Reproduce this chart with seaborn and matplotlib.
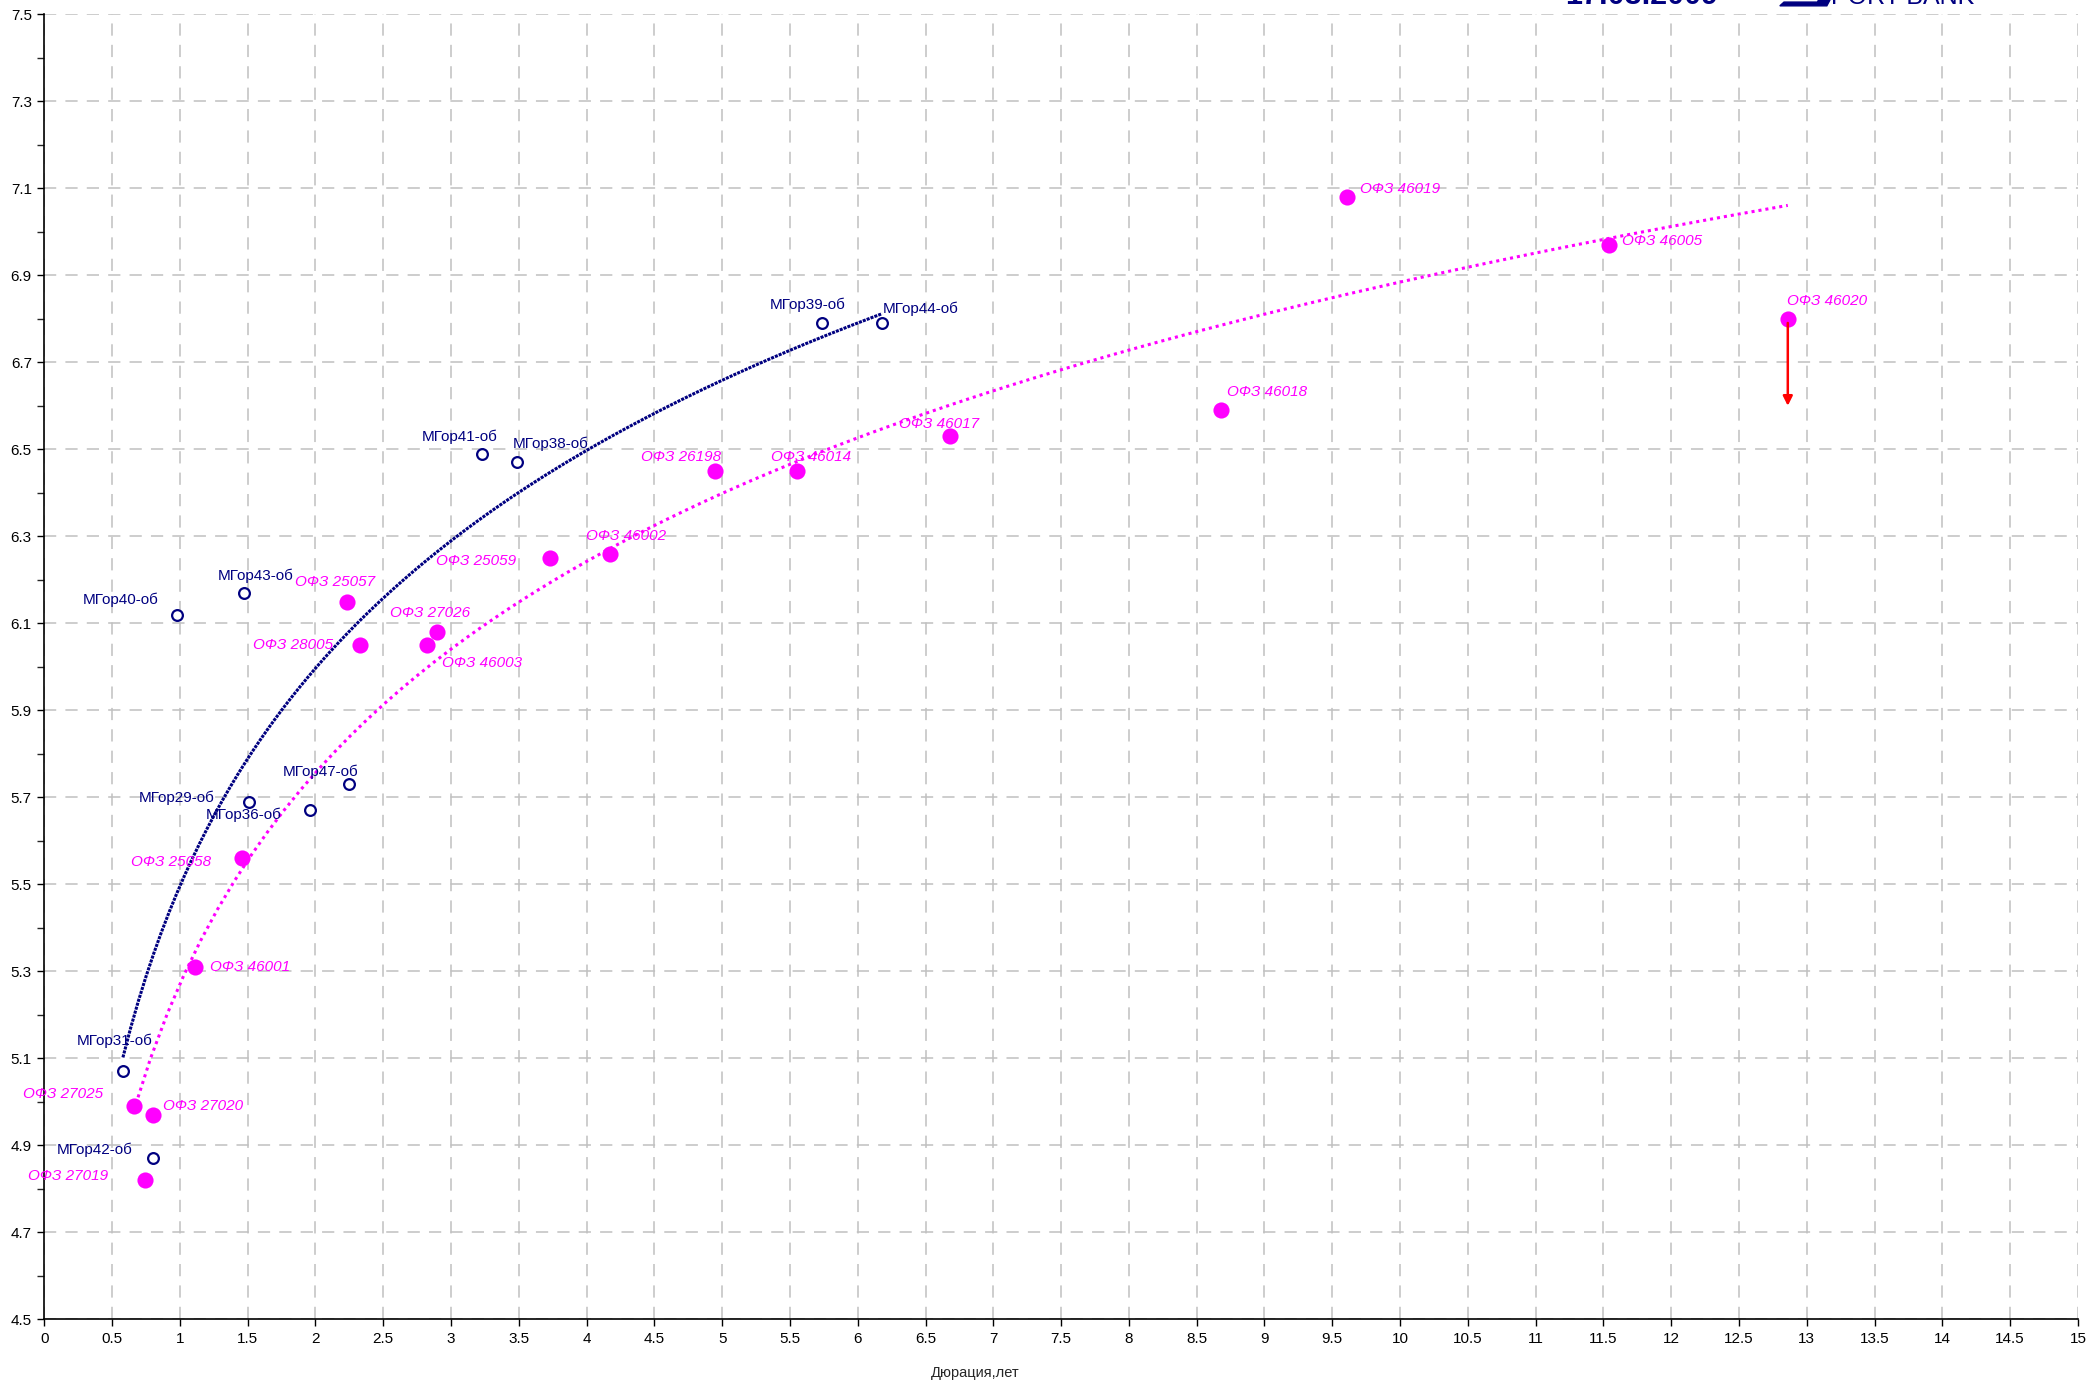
import numpy as np
import pandas as pd
import seaborn as sns
import matplotlib
matplotlib.use("Agg")
import matplotlib.pyplot as plt
from matplotlib import ticker
from matplotlib.patches import Polygon

# МГор (Moscow city bonds)
mgor_names = ['МГор31-об', 'МГор42-об', 'МГор40-об', 'МГор43-об', 'МГор29-об', 'МГор36-об',
              'МГор47-об', 'МГор41-об', 'МГор38-об', 'МГор39-об', 'МГор44-об']
mgor_dur = [0.58, 0.80, 0.98, 1.47, 1.51, 1.96, 2.25, 3.23, 3.49, 5.74, 6.18]
mgor_yld = [5.07, 4.87, 6.12, 6.17, 5.69, 5.67, 5.73, 6.49, 6.47, 6.79, 6.79]

# ОФЗ
ofz_names = ['ОФЗ 27025', 'ОФЗ 27020', 'ОФЗ 27019', 'ОФЗ 46001', 'ОФЗ 25058', 'ОФЗ 25057',
             'ОФЗ 28005', 'ОФЗ 46003', 'ОФЗ 27026', 'ОФЗ 25059', 'ОФЗ 46002', 'ОФЗ 26198',
             'ОФЗ 46014', 'ОФЗ 46017', 'ОФЗ 46018', 'ОФЗ 46019', 'ОФЗ 46005', 'ОФЗ 46020']
ofz_dur = [0.66, 0.80, 0.74, 1.11, 1.46, 2.23, 2.33, 2.82, 2.90, 3.73, 4.17, 4.95,
           5.55, 6.68, 8.68, 9.61, 11.54, 12.86]
ofz_yld = [4.99, 4.97, 4.82, 5.31, 5.56, 6.15, 6.05, 6.05, 6.08, 6.25, 6.26, 6.45,
           6.45, 6.53, 6.59, 7.08, 6.97, 6.80]

# стрелка для ОФЗ 46020
arrow_from = 'ОФЗ 46020'
arrow_to_yld = 6.60

x_label = 'Дюрация,лет'
title_date = '17.03.2009'
logo_text = 'PORT BANK'

NAVY = '#000080'
MAGENTA = '#FF00FF'

# label offsets in points (dx, dy) relative to the marker
mgor_off = {
    'МГор31-об': (-6, 22), 'МГор42-об': (-42, 6), 'МГор40-об': (-41, 11),
    'МГор43-об': (9, 12), 'МГор29-об': (-52, 3), 'МГор36-об': (-48, -3),
    'МГор47-об': (-21, 9), 'МГор41-об': (-16, 12), 'МГор38-об': (24, 13),
    'МГор39-об': (-11, 13), 'МГор44-об': (28, 10),
}
ofz_off = {
    'ОФЗ 27025': (-51, 9), 'ОФЗ 27020': (36, 6), 'ОФЗ 27019': (-55, 3),
    'ОФЗ 46001': (40, 0), 'ОФЗ 25058': (-51, -3), 'ОФЗ 25057': (-8, 14),
    'ОФЗ 28005': (-48, 0), 'ОФЗ 46003': (40, -13), 'ОФЗ 27026': (-5, 14),
    'ОФЗ 25059': (-53, -2), 'ОФЗ 46002': (12, 13), 'ОФЗ 26198': (-25, 10),
    'ОФЗ 46014': (10, 10), 'ОФЗ 46017': (-8, 9), 'ОФЗ 46018': (33, 13),
    'ОФЗ 46019': (38, 6), 'ОФЗ 46005': (38, 3), 'ОФЗ 46020': (28, 13),
}

mgor = pd.DataFrame({'name': mgor_names, 'dur': mgor_dur, 'yld': mgor_yld})
ofz = pd.DataFrame({'name': ofz_names, 'dur': ofz_dur, 'yld': ofz_yld})

sns.set_style('white')
plt.rcParams['font.family'] = ['Liberation Sans', 'DejaVu Sans']

fig = plt.figure(figsize=(20.89, 13.90), dpi=100)
ax = fig.add_axes([0.0212, 0.0509, 0.9735, 0.9388])

# логарифмические линии тренда
sns.regplot(data=mgor, x='dur', y='yld', logx=True, ci=None, scatter=False, ax=ax,
            line_kws=dict(color=NAVY, lw=2.2, ls=(0, (1, 0.35)), zorder=2))
sns.regplot(data=ofz, x='dur', y='yld', logx=True, ci=None, scatter=False, ax=ax,
            line_kws=dict(color=MAGENTA, lw=2.2, ls=(0, (1, 1.3)), zorder=2))

sns.scatterplot(data=ofz, x='dur', y='yld', ax=ax, color=MAGENTA, s=135,
                edgecolor=MAGENTA, linewidth=0, zorder=3, legend=False)
sns.scatterplot(data=mgor, x='dur', y='yld', ax=ax, facecolor='white', s=60,
                edgecolor=NAVY, linewidth=1.6, zorder=4, legend=False)

for _, r in mgor.iterrows():
    ax.annotate(r['name'], (r['dur'], r['yld']), xytext=mgor_off[r['name']],
                textcoords='offset points', ha='center', va='center',
                fontsize=11, color=NAVY, zorder=5)
for _, r in ofz.iterrows():
    ax.annotate(r['name'], (r['dur'], r['yld']), xytext=ofz_off[r['name']],
                textcoords='offset points', ha='center', va='center',
                fontsize=11, color=MAGENTA, style='italic', zorder=5)

a = ofz[ofz['name'] == arrow_from].iloc[0]
ax.annotate('', xy=(a['dur'], arrow_to_yld), xytext=(a['dur'], a['yld']),
            arrowprops=dict(arrowstyle='-|>', color='#FF0000', lw=1.8,
                            mutation_scale=14, shrinkA=3, shrinkB=0), zorder=6)

ax.set_xlim(0, 15)
ax.set_ylim(4.5, 7.5)
ax.xaxis.set_major_locator(ticker.MultipleLocator(0.5))
ax.yaxis.set_major_locator(ticker.MultipleLocator(0.2, offset=0.1))
ax.yaxis.set_minor_locator(ticker.MultipleLocator(0.1))
fmt = ticker.FuncFormatter(lambda v, p: '%g' % round(v, 2))
ax.xaxis.set_major_formatter(fmt)
ax.yaxis.set_major_formatter(fmt)
ax.tick_params(axis='both', which='major', direction='out', length=5, width=1,
               labelsize=11, colors='black', pad=4)
ax.tick_params(axis='y', which='minor', direction='out', length=5, width=1, left=True)
ax.tick_params(axis='x', which='both', bottom=True)
ax.tick_params(axis='y', which='both', left=True)

ax.grid(True, which='major', color='#C0C0C0', lw=1.1, ls=(0, (8, 6)))
ax.set_axisbelow(True)
for s in ['top', 'right']:
    ax.spines[s].set_visible(False)
for s in ['left', 'bottom']:
    ax.spines[s].set_color('black')
    ax.spines[s].set_linewidth(1.2)

ax.set_xlabel(x_label, fontsize=10.5)
ax.xaxis.set_label_coords(0.4577, -0.036)
ax.set_ylabel('')

# шапка, обрезанная верхним краем
fig.text(0.749, 1 - 4 / 1390, title_date, fontsize=22, fontweight='bold', color=NAVY,
         ha='left', va='baseline')
fig.text(0.8765, 1 - 4 / 1390, logo_text, fontsize=18, color=NAVY, ha='left', va='baseline')
fig.patches.append(Polygon([[0.8520, 0.9958], [0.8745, 0.9958], [0.8760, 1.0],
                            [0.8705, 1.0], [0.8700, 0.9985], [0.8540, 0.9985]],
                           closed=True, transform=fig.transFigure, color=NAVY))

fig.savefig('out.png', dpi=100)
